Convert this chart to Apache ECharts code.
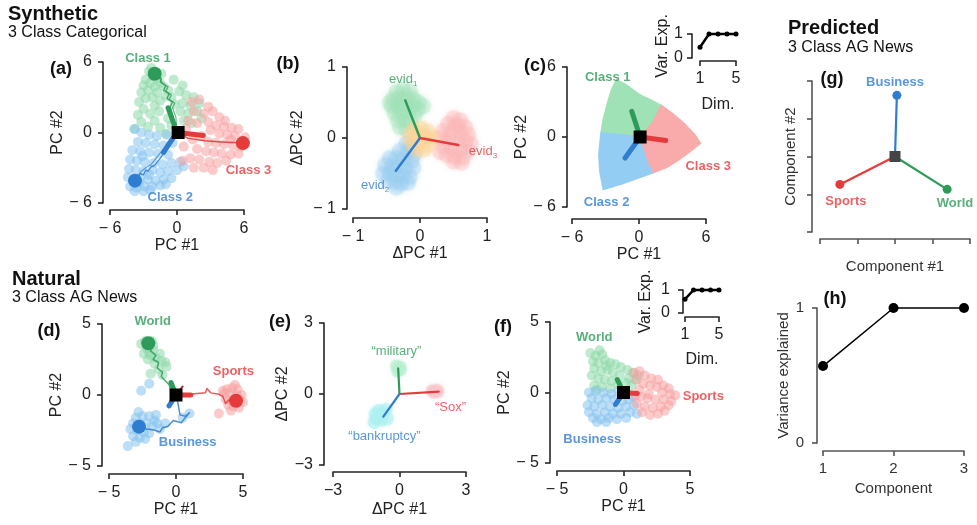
<!DOCTYPE html>
<html><head><meta charset="utf-8">
<script src="https://cdn.jsdelivr.net/npm/echarts@6/dist/echarts.min.js"></script>
<style>html,body{margin:0;padding:0;background:#fff}#c{width:977px;height:525px}</style>
</head><body><div id="c"></div><script>
// ---------------- DATA ----------------
// tick labels
const ticksA = ['− 6', '0', '6'];
const ticksB = ['− 1', '0', '1'];
const ticksC = ['− 6', '0', '6'];
const ticksD = ['− 5', '0', '5'];
const ticksE = ['−3', '0', '3'];
const ticksF = ['− 5', '0', '5'];
const ticksInsetX = ['1', '5'];
const ticksInsetY = ['0', '1'];
const ticksHX = ['1', '2', '3'];
const ticksHY = ['0', '1'];

// panel (a) synthetic, 3 class categorical
const aGreenCloud = [[-2.5,5.2],[-2.2,4.8],[-2.8,4.5],[-1.8,4.6],[-2.4,4.2],[-3.0,4.0],[-1.5,4.2],[-2.0,3.9],[-2.6,3.6],[-1.2,3.9],[-3.2,3.4],[-1.8,3.4],[-2.2,3.0],[-0.8,3.6],[-1.0,3.1],[-2.8,2.9],[-3.4,2.6],[-1.5,2.7],[-0.5,3.0],[0.2,3.5],[0.8,3.2],[1.5,3.0],[-2.0,2.3],[-3.0,2.0],[-0.2,2.4],[0.5,2.5],[1.2,2.3],[2.0,2.5],[-3.5,1.5],[-2.4,1.6],[-1.6,1.8],[0.3,1.8],[1.0,1.6],[1.8,1.8],[-3.2,0.9],[-2.0,1.0],[-0.8,1.2],[0.6,1.0],[1.3,0.8],[-2.6,0.5],[-1.5,0.4],[-0.5,0.6],[2.2,1.2],[-3.8,0.3],[-1.0,-0.1],[-2.3,5.5],[-1.4,5.0],[0.5,4.0],[-0.3,4.5]];
const aBlueCloud = [[-3.8,0.3],[-3.2,0.0],[-2.5,-0.2],[-1.8,-0.3],[-0.9,-0.2],[-3.5,-0.8],[-2.8,-0.9],[-2.0,-1.0],[-1.2,-1.1],[-0.4,-0.9],[-4.0,-1.5],[-3.3,-1.6],[-2.5,-1.7],[-1.7,-1.8],[-0.8,-1.9],[-4.2,-2.3],[-3.6,-2.4],[-2.9,-2.5],[-2.1,-2.6],[-1.3,-2.7],[-0.5,-2.6],[0.3,-2.5],[-4.3,-3.1],[-3.7,-3.2],[-3.0,-3.3],[-2.2,-3.2],[-1.5,-3.4],[-0.8,-3.3],[0,-3.2],[0.6,-2.9],[-4.4,-3.8],[-3.9,-4.0],[-3.3,-3.9],[-2.6,-4.0],[-1.9,-4.1],[-1.2,-4.0],[-0.5,-3.9],[-4.2,-4.6],[-3.6,-4.7],[-2.9,-4.6],[-2.2,-4.6],[-1.5,-4.5],[-3.8,-5.0],[-3.0,-5.0],[-2.4,-4.9],[-3.4,-4.3],[-2.5,-3.6],[-3.1,-2.0],[-1.0,-4.4]];
const aRedCloud = [[1.3,2.6],[2.0,2.8],[2.8,2.2],[1.5,1.8],[2.4,1.6],[3.2,1.8],[3.8,1.3],[4.3,1.0],[1.0,1.0],[1.8,0.8],[2.8,0.9],[3.5,0.6],[4.2,0.5],[4.9,0.4],[5.5,0.3],[0.8,0.3],[3.0,0.2],[3.8,-0.1],[4.5,-0.2],[5.2,-0.3],[6.1,-0.4],[2.2,-0.3],[1.4,-0.6],[2.8,-0.8],[3.5,-0.9],[4.2,-1.0],[5.0,-1.1],[5.7,-1.2],[0.6,-1.2],[1.8,-1.4],[2.6,-1.6],[3.3,-1.7],[4.0,-1.8],[4.8,-1.9],[5.5,-1.8],[1.2,-2.2],[2.0,-2.3],[2.9,-2.5],[3.6,-2.6],[4.4,-2.4],[1.5,-3.0],[2.4,-3.0],[3.2,-3.2],[4.8,-0.6],[5.8,-0.8],[0.5,-2.4]];
const aGreenPath = [[0,0],[-0.3,1.2],[-0.6,2.2],[-0.4,2.6],[-0.9,2.9],[-0.7,3.3],[-1.2,3.6],[-1.0,4.0],[-1.5,4.3],[-1.4,4.6],[-2.0,5.0]];
const aGreenPath2 = [[0,0],[-0.1,1.3],[-0.4,2.1],[-0.2,2.5],[-0.7,2.8],[-0.5,3.2],[-1.0,3.5],[-0.8,3.9],[-1.3,4.2],[-1.6,4.7],[-2.0,5.0]];
const aBluePath = [[0,0],[-0.5,-0.7],[-1.0,-1.5],[-1.5,-2.2],[-2.0,-2.8],[-2.3,-2.9],[-2.6,-3.3],[-2.8,-3.2],[-3.0,-3.6],[-3.3,-3.5],[-3.5,-3.9],[-3.76,-4.1]];
const aBluePath2 = [[0,0],[-0.8,-0.8],[-1.3,-1.5],[-1.8,-2.1],[-2.3,-2.7],[-2.8,-3.0],[-3.2,-3.3],[-3.76,-4.1]];
const aRedPath = [[0,0],[1.0,-0.5],[2.5,-0.7],[4.0,-0.8],[5.0,-0.85],[5.9,-0.9]];
const aGreenArrow = [[0,0],[-0.8,2.1]];
const aBlueArrow = [[-0.3,-0.4],[-1.2,-1.7]];
const aRedArrow = [[0,0],[2.35,-0.25]];
const aGreenEnd = [[-2.0,5.0]];
const aBlueEnd = [[-3.76,-4.1]];
const aRedEnd = [[5.9,-0.9]];
const aCenter = [[0.1,0]];
const aLabels = [[-2.6,6.3,'Class 1'],[-0.6,-5.5,'Class 2'],[6.4,-3.2,'Class 3']];

// panel (b) evidence vectors
const bGreenCloud = [[-0.35,0.65],[-0.25,0.68],[-0.15,0.66],[-0.4,0.55],[-0.3,0.56],[-0.2,0.58],[-0.1,0.55],[-0.02,0.5],[-0.42,0.45],[-0.32,0.46],[-0.22,0.47],[-0.12,0.45],[-0.03,0.4],[-0.38,0.35],[-0.28,0.36],[-0.18,0.37],[-0.08,0.32],[-0.33,0.25],[-0.23,0.26],[-0.14,0.22],[-0.3,0.15],[-0.2,0.12],[-0.45,0.5],[0.05,0.45]];
const bBlueCloud = [[-0.2,-0.08],[-0.12,-0.12],[-0.3,-0.18],[-0.18,-0.2],[-0.08,-0.22],[-0.45,-0.28],[-0.35,-0.28],[-0.25,-0.3],[-0.12,-0.32],[-0.52,-0.38],[-0.42,-0.4],[-0.32,-0.4],[-0.22,-0.42],[-0.1,-0.42],[-0.55,-0.5],[-0.45,-0.5],[-0.35,-0.52],[-0.25,-0.53],[-0.15,-0.55],[-0.48,-0.6],[-0.38,-0.62],[-0.28,-0.64],[-0.18,-0.63],[-0.35,-0.7]];
const bRedCloud = [[0.5,0.28],[0.6,0.25],[0.42,0.2],[0.55,0.18],[0.68,0.15],[0.35,0.1],[0.48,0.08],[0.6,0.08],[0.72,0.05],[0.3,0.0],[0.42,-0.02],[0.55,-0.03],[0.68,-0.05],[0.76,-0.08],[0.35,-0.12],[0.47,-0.14],[0.6,-0.15],[0.72,-0.18],[0.4,-0.24],[0.52,-0.26],[0.64,-0.27],[0.5,-0.33],[0.62,-0.35],[0.3,-0.2]];
const bOrangeCloud = [[-0.1,0.12],[0.02,0.14],[0.12,0.1],[-0.15,0.02],[-0.04,0.04],[0.08,0.02],[0.18,0.0],[-0.12,-0.08],[0.0,-0.07],[0.12,-0.1],[-0.05,-0.16],[0.06,-0.17]];
const bGreenVec = [[0,0],[-0.22,0.53]];
const bBlueVec = [[0,0],[-0.36,-0.46]];
const bRedVec = [[0,0],[0.57,-0.1]];
const bLabels = [[-0.25,0.82,'1'],[-0.67,-0.67,'2'],[0.94,-0.19,'3']];

// panel (c) regions
const cGreenRegion = [[-2.0,4.9],[-1.2,4.5],[0.1,3.6],[1.0,3.2],[2.0,2.7],[1.2,1.2],[0.1,0],[-1.5,0.2],[-3.4,0.35],[-3.2,1.5],[-2.8,3.0],[-2.4,4.2]];
const cRedRegion = [[0.1,0],[1.2,1.2],[2.0,2.7],[3.0,2.0],[4.0,1.2],[5.0,0.2],[5.5,-0.55],[4.5,-1.3],[3.5,-2.0],[2.5,-2.6],[1.3,-3.05],[0.8,-2.0],[0.4,-0.8]];
const cBlueRegion = [[-3.4,0.35],[-1.5,0.2],[0.1,0],[0.4,-0.8],[0.8,-2.0],[1.3,-3.05],[0,-3.5],[-1.5,-4.0],[-3.2,-4.5],[-3.5,-3.0],[-3.6,-1.5]];
const cGreenArrow = [[0.1,0],[-0.65,2.2]];
const cBlueArrow = [[0.1,0],[-1.25,-1.8]];
const cRedArrow = [[0.1,0],[2.4,-0.3]];
const cCenter = [[0.1,0]];
const cLabels = [[-2.8,5.1,'Class 1'],[-2.9,-5.6,'Class 2'],[6.2,-2.5,'Class 3']];
const cInsetDim = [1,2,3,4,5];
const cInsetVar = [0.45,1,1,1,1];

// panel (g) predicted
const gBusiness = [[0,0],[0.05,1.62]];
const gSports = [[0,0],[-1.47,-0.74]];
const gWorld = [[0,0],[1.39,-0.87]];
const gCenter = [[0,0]];
const gLabels = [[0,1.97,'Business'],[-1.31,-1.18,'Sports'],[1.6,-1.23,'World']];

// panel (d) natural, AG News
const dGreenCloud = [[-2.3,3.8],[-2.6,3.6],[-1.8,3.8],[-2.2,3.3],[-1.7,3.2],[-2.4,2.9],[-1.9,2.8],[-1.5,2.6],[-2.1,2.5],[-1.6,2.2],[-1.1,2.4],[-0.8,2.3],[-0.7,2.0],[-1.3,1.8],[-1.9,1.5],[-1.0,1.4],[-1.7,3.5],[-2.0,3.0],[-1.2,2.9]];
const dBlueCloud = [[-2.0,0.8],[-2.6,0.3],[-3.0,-1.6],[-2.5,-1.5],[-2.0,-1.5],[-1.6,-1.8],[-3.2,-2.0],[-2.7,-2.0],[-2.2,-2.0],[-1.8,-2.2],[-3.4,-2.4],[-2.9,-2.5],[-2.4,-2.6],[-2.0,-2.7],[-3.2,-2.9],[-2.7,-3.0],[-2.3,-3.1],[-3.0,-3.3],[-3.6,-3.6],[-1.4,-2.0],[-1.2,-2.4],[-1.5,-1.4],[-2.8,-1.2],[1.0,-1.3],[0.5,-1.6],[-0.8,-2.0]];
const dRedCloud = [[3.8,0.4],[4.2,0.5],[4.6,0.4],[3.6,0.1],[4.0,0.1],[4.5,0.0],[4.9,0.0],[3.7,-0.3],[4.1,-0.4],[4.7,-0.3],[5.0,-0.5],[3.9,-0.7],[4.3,-0.8],[4.7,-0.9],[4.1,-1.1],[3.2,-1.3],[3.5,0.3],[4.4,0.7]];
const dGreenPath = [[0,0],[-0.4,0.3],[-0.5,0.7],[-0.8,1.0],[-1.1,1.3],[-1.0,1.6],[-1.4,1.9],[-1.3,2.3],[-1.7,2.5],[-1.5,2.8],[-1.9,3.1],[-1.8,3.4],[-2.07,3.64]];
const dRedPath = [[0,0],[1.0,0.05],[2.2,0.15],[2.3,0.45],[2.6,0.15],[3.2,0.05],[3.5,-0.1],[3.7,-0.6],[4.0,-0.3],[4.48,-0.4]];
const dBluePath = [[0,0],[0.15,-0.6],[0.3,-1.4],[0.7,-1.5],[1.0,-1.25],[0.6,-1.7],[0.4,-1.95],[-0.2,-1.8],[-0.6,-2.2],[-1.0,-2.3],[-1.2,-2.6],[-1.7,-2.45],[-2.2,-2.4],[-2.76,-2.23]];
const dGreenArrow = [[0,0],[-0.37,0.87]];
const dBlueArrow = [[0,0],[-0.52,-0.77]];
const dRedArrow = [[0,0],[1.1,0]];
const dRedTick = [[0,0],[0.5,0.6]];
const dGreenEnd = [[-2.07,3.64]];
const dBlueEnd = [[-2.76,-2.23]];
const dRedEnd = [[4.48,-0.4]];
const dCenter = [[0,0]];
const dLabels = [[-1.74,5.16,'World'],[4.28,1.64,'Sports'],[0.87,-3.36,'Business']];

// panel (e) word evidence
const eGreenCloud = [[-0.15,1.2],[-0.05,1.1],[0.05,1.0],[-0.1,0.95],[0.05,1.15]];
const eRedCloud = [[1.45,0.15],[1.6,0.12],[1.75,0.1],[1.55,0.05],[1.7,0.18]];
const eCyanCloud = [[-0.6,-0.65],[-0.75,-0.8],[-0.9,-0.9],[-1.05,-1.05],[-1.15,-1.2],[-0.8,-1.1],[-0.55,-1.05],[-0.95,-0.7],[-1.1,-0.85]];
const eGreenVec = [[0,0],[-0.06,1.08]];
const eRedVec = [[0,0],[1.77,0.1]];
const eBlueVec = [[0,0],[-0.73,-0.96]];
const eLabels = [[-0.14,1.81,'“military”'],[2.3,-0.56,'“Sox”'],[-0.68,-1.8,'“bankruptcy”']];

// panel (f)
const fGreenCloud = [[-1.8,3.0],[-2.1,2.6],[-1.6,2.7],[-2.3,2.2],[-1.9,2.1],[-1.4,2.3],[-1.0,2.1],[-0.6,2.0],[-0.2,1.8],[0.3,1.6],[0.7,1.4],[-2.2,1.7],[-1.7,1.5],[-1.2,1.6],[-0.8,1.4],[-0.3,1.2],[0.4,1.0],[0.9,0.9],[-2.4,1.2],[-1.9,1.0],[-1.4,0.9],[-0.9,0.8],[-2.2,0.5],[-1.6,0.4],[-1.0,0.3],[0.2,0.7],[-0.4,0.6],[0.6,0.5],[-2.5,2.8],[-1.3,1.9],[-2.0,0.2],[1.1,1.2]];
const fBlueCloud = [[-2.6,0.0],[-2.1,0.1],[-1.5,0.0],[-0.9,-0.1],[-0.4,0.1],[-2.4,-0.4],[-1.9,-0.5],[-1.3,-0.4],[-0.7,-0.5],[-0.1,-0.6],[0.4,-0.5],[-2.7,-0.9],[-2.2,-1.0],[-1.6,-0.9],[-1.0,-1.0],[-0.4,-1.1],[0.2,-1.0],[0.8,-0.9],[-2.6,-1.4],[-2.0,-1.5],[-1.4,-1.4],[-0.8,-1.5],[-0.2,-1.5],[0.5,-1.4],[1.0,-1.5],[-2.3,-1.8],[-1.7,-1.9],[-1.1,-1.8],[-0.5,-1.9],[0.2,-1.8],[-2.0,-2.1],[-1.3,-2.1],[0.7,-0.3]];
const fRedCloud = [[0.8,1.4],[1.2,1.5],[1.6,1.2],[2.1,1.0],[2.6,0.9],[1.0,0.9],[1.5,0.6],[2.0,0.5],[2.5,0.4],[3.0,0.5],[3.4,0.3],[1.2,0.2],[2.9,0.0],[3.5,-0.1],[3.9,-0.2],[1.3,-0.3],[1.8,-0.4],[2.4,-0.5],[3.0,-0.5],[3.6,-0.6],[1.0,-0.8],[1.6,-1.0],[2.2,-1.1],[2.8,-1.0],[3.4,-0.9],[1.4,-1.4],[2.0,-1.6],[2.6,-1.5],[3.1,-1.3],[1.9,-0.1],[0.9,-0.2]];
const fGreenArrow = [[0,0],[-0.47,0.92]];
const fBlueArrow = [[0,0],[-0.6,-0.85]];
const fRedArrow = [[0,0],[1.03,-0.07]];
const fCenter = [[0,0]];
const fLabels = [[-2.2,3.9,'World'],[6.0,-0.26,'Sports'],[-2.35,-3.33,'Business']];
const fInsetDim = [1,2,3,4,5];
const fInsetVar = [0.6,1,1,1,1];

// panel (h)
const hComponent = [1,2,3];
const hVariance = [0.57,1,1];

// ---------------- STYLE / BUILD ----------------
const FONT = '"Liberation Sans", Arial, Helvetica, sans-serif';
const AX = '#262626';
const GD = '#2e9b5a', GL = '#8dd9a7';
const BD = '#2f7dd1', BL = '#85c3ef';
const RD = '#e53b3d', RL = '#f7a1a1';

const grids = [], xAxes = [], yAxes = [], series = [];
function axis(i, a, isX) {
  const color = a.color || AX;
  const vals = [];
  if (a.custom) a.custom.forEach(v => vals.push(v));
  else for (let v = a.min; v <= a.max + 1e-9; v += a.interval) vals.push(v);
  const o = {
    type: 'value', gridIndex: i, min: a.min, max: a.max,
    position: isX ? 'bottom' : 'left', offset: a.offset,
    name: a.name, nameLocation: 'middle', nameGap: a.gap,
    nameTextStyle: {fontFamily: FONT, fontSize: a.nameSize || 16, color: a.nameColor || '#222'},
    axisLine: {show: true, onZero: false, lineStyle: {color, width: 1.6}},
    axisTick: {show: true, length: 5, lineStyle: {color, width: 1.6}},
    axisLabel: {show: !!a.labels, margin: a.margin || 11, fontFamily: FONT, fontSize: a.labelSize || 16, color: a.labelColor || '#222',
      showMinLabel: true, showMaxLabel: true, hideOverlap: false,
      formatter: (v) => {
        const k = vals.findIndex(t => Math.abs(t - v) < 1e-6);
        return (k >= 0 && a.labels) ? a.labels[k] : '';
      }},
    splitLine: {show: false}
  };
  if (a.custom) {
    o.axisTick.customValues = a.custom;
    o.axisLabel.customValues = a.custom;
  } else {
    o.interval = a.interval;
  }
  return o;
}
function panel(r, xa, ya) {
  const i = grids.length;
  grids.push({left: r[0], top: r[1], width: r[2] - r[0], height: r[3] - r[1], containLabel: false, outerBoundsMode: 'none'});
  xAxes.push(axis(i, xa, true));
  yAxes.push(axis(i, ya, false));
  return i;
}
function cloud(i, data, color, size, op, blur) {
  series.push({type: 'scatter', xAxisIndex: i, yAxisIndex: i, data, symbolSize: size, clip: false,
    itemStyle: {color, opacity: op, shadowBlur: blur || 0, shadowColor: color}, silent: true, z: 1});
}
function path(i, data, color, w, op, z) {
  series.push({type: 'line', xAxisIndex: i, yAxisIndex: i, data, symbol: 'none', showSymbol: false, clip: false,
    lineStyle: {color, width: w, opacity: op === undefined ? 1 : op, cap: 'round', join: 'round'}, z: z || 3, silent: true});
}
function dots(i, data, color, size, symbol, z) {
  series.push({type: 'scatter', xAxisIndex: i, yAxisIndex: i, data, symbol: symbol || 'circle', symbolSize: size, clip: false,
    itemStyle: {color, opacity: 1}, z: z || 5, silent: true});
}
function labels(i, items, color, size, weight, rich) {
  series.push({type: 'scatter', xAxisIndex: i, yAxisIndex: i, symbolSize: 0, z: 6, silent: true, clip: false,
    data: items.map(t => ({value: [t[0], t[1]], name: t[2]})),
    label: {show: true, position: 'inside', formatter: rich ? ('evid{s|{b}}') : '{b}', color, fontFamily: FONT, fontSize: size, fontWeight: weight,
      rich: rich ? {s: {fontSize: 8, color, fontFamily: FONT, padding: [8, 0, 0, 0]}} : undefined}});
}
function polygons(i, polys, colors) {
  series.push({type: 'custom', xAxisIndex: i, yAxisIndex: i, z: 1, silent: true, clip: false,
    data: polys.map((p, k) => [k]),
    renderItem: (params, api) => {
      const k = api.value(0);
      return {type: 'polygon', shape: {points: polys[k].map(pt => api.coord(pt))}, style: {fill: colors[k], stroke: colors[k], lineWidth: 1.5}};
    }});
}

// (a)
const A = panel([110, 62, 244, 203],
  {min: -6, max: 6, interval: 6, offset: 7, name: 'PC #1', gap: 28, labels: ticksA},
  {min: -6, max: 6, interval: 6, offset: 7, name: 'PC #2', gap: 27, labels: ticksA});
cloud(A, aGreenCloud, GL, 10, 0.55);
cloud(A, aBlueCloud, BL, 10, 0.55);
cloud(A, aRedCloud, RL, 10, 0.55);
path(A, aGreenPath, GD, 1.2, 0.9);
path(A, aGreenPath2, GD, 1.2, 0.7);
path(A, aBluePath, BD, 1.2, 0.9);
path(A, aBluePath2, BD, 1.2, 0.7);
path(A, aRedPath, RD, 1.5, 0.9);
path(A, aGreenArrow, GD, 5, 1, 4);
path(A, aBlueArrow, BD, 5, 1, 4);
path(A, aRedArrow, RD, 5, 1, 4);
dots(A, aGreenEnd, GD, 14);
dots(A, aBlueEnd, BD, 14);
dots(A, aRedEnd, RD, 14);
dots(A, aCenter, '#000', 13, 'rect', 7);
labels(A, [aLabels[0]], GD, 13, 'bold');
labels(A, [aLabels[1]], BD, 13, 'bold');
labels(A, [aLabels[2]], RD, 13, 'bold');

// (b)
const B = panel([353, 67, 487, 209],
  {min: -1, max: 1, interval: 1, offset: 9, name: 'ΔPC #1', gap: 27, labels: ticksB},
  {min: -1, max: 1, interval: 1, offset: 6, name: 'ΔPC #2', gap: 41, labels: ticksB});
cloud(B, bGreenCloud, '#9fe2b8', 16, 0.28, 5);
cloud(B, bBlueCloud, '#96cdf2', 16, 0.28, 5);
cloud(B, bRedCloud, '#fbb3b3', 16, 0.28, 5);
cloud(B, bOrangeCloud, '#fdd596', 15, 0.35, 5);
path(B, bGreenVec, GD, 2.5);
path(B, bBlueVec, BD, 2.5);
path(B, bRedVec, RD, 2.5);
labels(B, [bLabels[0]], GD, 13, 'normal', true);
labels(B, [bLabels[1]], BD, 13, 'normal', true);
labels(B, [bLabels[2]], RD, 13, 'normal', true);

// (c)
const C = panel([572, 67, 706, 207],
  {min: -6, max: 6, interval: 6, offset: 12, name: 'PC #1', gap: 24, labels: ticksC},
  {min: -6, max: 6, interval: 6, offset: 5, name: 'PC #2', gap: 29, labels: ticksC});
polygons(C, [cGreenRegion, cBlueRegion, cRedRegion], ['#9fe2b5', '#94cdf3', '#f9abab']);
path(C, cGreenArrow, GD, 5, 1, 4);
path(C, cBlueArrow, BD, 5, 1, 4);
path(C, cRedArrow, RD, 5, 1, 4);
dots(C, cCenter, '#000', 13, 'rect', 7);
labels(C, [cLabels[0]], GD, 13, 'bold');
labels(C, [cLabels[1]], BD, 13, 'bold');
labels(C, [cLabels[2]], RD, 13, 'bold');

// (c) inset
const CI = panel([700, 34, 736, 58],
  {min: 1, max: 5, custom: [1, 5], offset: 3, name: 'Dim.', gap: 36, labels: ticksInsetX, margin: 10},
  {min: 0, max: 1, interval: 1, offset: 8, name: 'Var. Exp.', gap: 17, labels: ticksInsetY, margin: 9});
path(CI, cInsetDim.map((d, k) => [d, cInsetVar[k]]), '#000', 2.5);
dots(CI, cInsetDim.map((d, k) => [d, cInsetVar[k]]), '#000', 5);

// (g)
const G = panel([820, 81, 970, 232],
  {min: -2, max: 2, interval: 1, offset: 7, name: 'Component #1', gap: 20, color: '#555', nameColor: '#333', nameSize: 15},
  {min: -2, max: 2, interval: 1, offset: 8, name: 'Component #2', gap: 14, color: '#555', nameColor: '#333', nameSize: 15});
path(G, gBusiness, BD, 2.2);
path(G, gSports, RD, 2.2);
path(G, gWorld, GD, 2.2);
dots(G, [gBusiness[1]], BD, 9);
dots(G, [gSports[1]], RD, 9);
dots(G, [gWorld[1]], GD, 9);
dots(G, gCenter, '#444', 11, 'rect', 7);
labels(G, [gLabels[0]], BD, 13, 'bold');
labels(G, [gLabels[1]], RD, 13, 'bold');
labels(G, [gLabels[2]], GD, 13, 'bold');

// (d)
const D = panel([109, 324, 243, 466],
  {min: -5, max: 5, interval: 5, offset: 8, name: 'PC #1', gap: 24, labels: ticksD},
  {min: -5, max: 5, interval: 5, offset: 7, name: 'PC #2', gap: 27, labels: ticksD});
cloud(D, dGreenCloud, GL, 10, 0.55);
cloud(D, dBlueCloud, BL, 10, 0.55);
cloud(D, dRedCloud, RL, 10, 0.55);
path(D, dGreenPath, GD, 1.5, 0.85);
path(D, dRedPath, RD, 1.5, 0.85);
path(D, dBluePath, BD, 1.5, 0.85);
path(D, dGreenArrow, GD, 5, 1, 4);
path(D, dBlueArrow, BD, 5, 1, 4);
path(D, dRedArrow, RD, 5, 1, 4);
path(D, dRedTick, '#b02a2a', 2, 1, 4);
dots(D, dGreenEnd, GD, 14);
dots(D, dBlueEnd, BD, 14);
dots(D, dRedEnd, RD, 14);
dots(D, dCenter, '#000', 13, 'rect', 7);
labels(D, [dLabels[0]], GD, 13, 'bold');
labels(D, [dLabels[1]], RD, 13, 'bold');
labels(D, [dLabels[2]], BD, 13, 'bold');

// (e)
const E = panel([333, 323, 466, 465],
  {min: -3, max: 3, interval: 3, offset: 7, name: 'ΔPC #1', gap: 30, labels: ticksE},
  {min: -3, max: 3, interval: 3, offset: 9, name: 'ΔPC #2', gap: 28, labels: ticksE});
cloud(E, eGreenCloud, '#b8efcf', 12, 0.5, 3);
cloud(E, eRedCloud, '#fcc6cb', 12, 0.5, 3);
cloud(E, eCyanCloud, '#aef2f2', 13, 0.5, 3);
path(E, eGreenVec, GD, 2.2);
path(E, eRedVec, RD, 2.2);
path(E, eBlueVec, BD, 2.2);
labels(E, [eLabels[0]], GD, 13, 'normal');
labels(E, [eLabels[1]], RD, 13, 'normal');
labels(E, [eLabels[2]], BD, 13, 'normal');

// (f)
const F = panel([557, 322, 690, 463],
  {min: -5, max: 5, interval: 5, offset: 8, name: 'PC #1', gap: 26, labels: ticksF},
  {min: -5, max: 5, interval: 5, offset: 7, name: 'PC #2', gap: 28, labels: ticksF});
cloud(F, fGreenCloud, GL, 10, 0.55);
cloud(F, fBlueCloud, BL, 10, 0.55);
cloud(F, fRedCloud, RL, 10, 0.55);
path(F, fGreenArrow, GD, 5, 1, 4);
path(F, fBlueArrow, BD, 5, 1, 4);
path(F, fRedArrow, RD, 5, 1, 4);
dots(F, fCenter, '#000', 13, 'rect', 7);
labels(F, [fLabels[0]], GD, 13, 'bold');
labels(F, [fLabels[1]], RD, 13, 'bold');
labels(F, [fLabels[2]], BD, 13, 'bold');

// (f) inset
const FI = panel([685, 290, 719, 313],
  {min: 1, max: 5, custom: [1, 5], offset: 4, name: 'Dim.', gap: 35, labels: ticksInsetX, margin: 10},
  {min: 0, max: 1, interval: 1, offset: 2, name: 'Var. Exp.', gap: 29, labels: ticksInsetY, margin: 13});
path(FI, fInsetDim.map((d, k) => [d, fInsetVar[k]]), '#000', 2.5);
dots(FI, fInsetDim.map((d, k) => [d, fInsetVar[k]]), '#000', 5);

// (h)
const H = panel([823, 308, 964, 443],
  {min: 1, max: 3, interval: 1, offset: 8, name: 'Component', gap: 30, labels: ticksHX, color: '#555', nameColor: '#333', nameSize: 15, labelColor: '#333', labelSize: 15, margin: 10},
  {min: 0, max: 1, interval: 1, offset: 6, name: 'Variance explained', gap: 24, labels: ticksHY, color: '#555', nameColor: '#333', nameSize: 15, labelColor: '#333', labelSize: 15, margin: 13});
path(H, hComponent.map((c, k) => [c, hVariance[k]]), '#000', 1.5);
dots(H, hComponent.map((c, k) => [c, hVariance[k]]), '#000', 10);

// titles and panel letters
function txt(x, y, s, size, weight, align) {
  return {type: 'text', x, y, silent: true,
    style: {text: s, fontFamily: FONT, fontSize: size, fontWeight: weight || 'normal', fill: '#111', textAlign: align || 'left', textVerticalAlign: 'middle'}};
}
const graphic = [
  txt(8, 14, 'Synthetic', 20, 'bold'),
  txt(8, 33, '3 Class Categorical', 16),
  txt(12, 279, 'Natural', 20, 'bold'),
  txt(12, 298, '3 Class AG News', 16),
  txt(788, 28, 'Predicted', 20, 'bold'),
  txt(788, 48, '3 Class AG News', 16),
  txt(61, 69, '(a)', 18, 'bold', 'center'),
  txt(288, 64, '(b)', 18, 'bold', 'center'),
  txt(535, 66, '(c)', 18, 'bold', 'center'),
  txt(832, 79, '(g)', 18, 'bold', 'center'),
  txt(49, 331, '(d)', 18, 'bold', 'center'),
  txt(280, 322, '(e)', 18, 'bold', 'center'),
  txt(503, 327, '(f)', 18, 'bold', 'center'),
  txt(835, 299, '(h)', 18, 'bold', 'center')
];

const chart = echarts.init(document.getElementById('c'), null, {renderer: 'canvas'});
chart.setOption({
  animation: false,
  backgroundColor: '#fff',
  grid: grids, xAxis: xAxes, yAxis: yAxes, series, graphic
});
</script></body></html>
